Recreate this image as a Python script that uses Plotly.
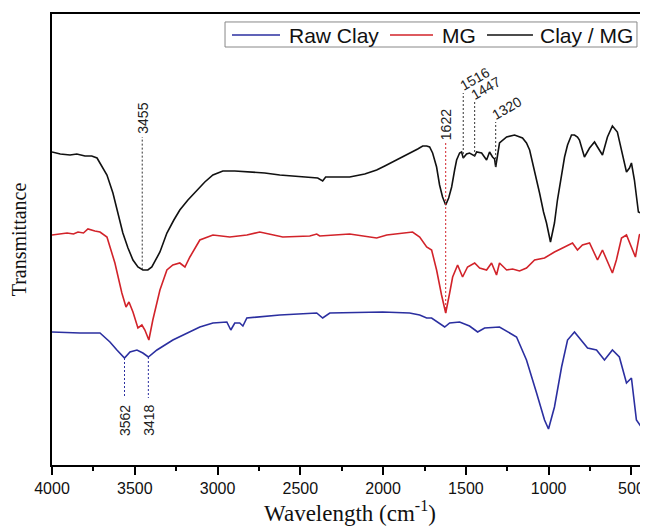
import numpy as np
import plotly.graph_objects as go

# ---------------- data (wavenumber in cm-1, transmittance in arbitrary units) ----------------
clay_mg_wn = [4000, 3950, 3891, 3850, 3801, 3760, 3728, 3710, 3668, 3632, 3602, 3572, 3541, 3511, 3481,
              3451, 3421, 3397, 3348, 3306, 3264, 3228, 3179, 3125, 3077, 3028, 2968, 2896, 2823,
              2715, 2624, 2546, 2443, 2395, 2365, 2347, 2292, 2202, 2111, 2039, 1990, 1942, 1888,
              1840, 1791, 1761, 1737, 1719, 1701, 1677, 1659, 1641, 1622, 1604, 1586, 1568, 1556,
              1538, 1526, 1516, 1496, 1478, 1447, 1435, 1405, 1375, 1357, 1339, 1327, 1320, 1303,
              1297, 1254, 1206, 1158, 1134, 1115, 1097, 1073, 1055, 1031, 1013, 989, 965, 947, 934,
              904, 886, 862, 844, 826, 814, 784, 753, 723, 705, 675, 645, 615, 585, 560, 542, 530,
              512, 500, 482, 464, 458, 440, 421, 403]
clay_mg_t = [313, 311, 310, 311, 309, 309, 307, 302, 290, 272, 252, 232, 217, 205, 198,
             195, 195, 198, 213, 232, 245, 255, 265, 275, 283, 290, 294, 294, 293,
             292, 290, 289, 288, 287, 284, 288, 288, 288, 291, 295, 299, 303, 308,
             312, 316, 319, 319, 318, 312, 298, 280, 268, 260, 267, 278, 295, 305,
             312, 313, 307, 311, 312, 309, 313, 312, 305, 313, 308, 306, 298, 313,
             322, 328, 330, 327, 322, 315, 302, 287, 272, 253, 242, 223, 242, 265, 278,
             308, 320, 330, 330, 328, 325, 308, 317, 323, 318, 310, 328, 339, 333, 315, 300, 293,
             297, 302, 285, 260, 253, 252, 272, 312]

mg_wn = [4000, 3952, 3909, 3870, 3843, 3810, 3783, 3741, 3710, 3668, 3620, 3578, 3553, 3535, 3511,
         3481, 3457, 3439, 3415, 3391, 3348, 3306, 3270, 3228, 3197, 3167, 3107, 3028, 2926,
         2823, 2745, 2606, 2443, 2401, 2383, 2202, 2039, 1978, 1822, 1779, 1737, 1707, 1677,
         1647, 1622, 1598, 1580, 1550, 1520, 1490, 1447, 1417, 1375, 1345, 1315, 1297, 1254,
         1218, 1176, 1134, 1085, 1025, 965, 916, 856, 826, 796, 753, 705, 675, 645, 615, 591,
         560, 530, 500, 476, 452, 428, 403]
mg_t = [230, 231, 232, 231, 233, 232, 236, 234, 233, 228, 202, 172, 158, 163, 153,
        137, 140, 135, 125, 145, 175, 195, 200, 202, 198, 208, 225, 230, 228,
        230, 233, 228, 229, 231, 229, 231, 227, 230, 233, 228, 218, 215, 195,
        170, 152, 172, 188, 200, 188, 198, 202, 197, 195, 202, 190, 202, 195,
        196, 194, 197, 205, 207, 213, 217, 222, 215, 220, 222, 205, 215, 203, 192, 205,
        227, 230, 218, 208, 230, 233, 230]

raw_clay_wn = [4000, 3900, 3831, 3710, 3650, 3608, 3562, 3529, 3487, 3451, 3418, 3366, 3270, 3107,
               3028, 2944, 2920, 2896, 2866, 2847, 2823, 2624, 2522, 2401, 2365, 2322, 2003, 1840,
               1779, 1737, 1707, 1659, 1628, 1598, 1538, 1478, 1429, 1387, 1297, 1194, 1134, 1073,
               1025, 1001, 965, 922, 886, 844, 802, 765, 711, 663, 615, 573, 530, 500, 470, 440, 410]
raw_clay_t = [133, 132, 132, 132, 123, 115, 107, 113, 115, 112, 108, 115, 125, 138,
              142, 143, 135, 142, 142, 139, 147, 150, 151, 152, 147, 152, 153, 152,
              150, 147, 147, 142, 138, 142, 143, 139, 133, 137, 138, 128, 105, 72,
              45, 36, 58, 98, 125, 133, 125, 117, 115, 105, 115, 108, 82, 87, 45, 38, 78]

series_names = ["Raw Clay", "MG", "Clay / MG"]
series_colors = ["#2b2fa0", "#d2232a", "#111111"]

# labelled bands and the series each one belongs to
peak_wn = [3455, 3562, 3418, 1622, 1516, 1447, 1320]
peak_series = [2, 0, 0, 1, 2, 2, 2]

x_ticks = [4000, 3500, 3000, 2500, 2000, 1500, 1000, 500]

# ---------------- figure ----------------
fig = go.Figure()
all_wn = [raw_clay_wn, mg_wn, clay_mg_wn]
all_t = [raw_clay_t, mg_t, clay_mg_t]
for name, color, wn, t in zip(series_names, series_colors, all_wn, all_t):
    fig.add_trace(go.Scatter(x=wn, y=t, mode="lines", name=name, showlegend=False,
                             line=dict(color=color, width=1.6)))


def curve_at(idx, w):
    wn = np.array(all_wn[idx])[::-1]
    t = np.array(all_t[idx])[::-1]
    return float(np.interp(w, wn, t))


shapes = []
annotations = []
label_font = dict(family="Liberation Sans, Arial", size=14, color="#222222")
dash_colors = {0: "#2b2fa0", 1: "#d2232a", 2: "#333333"}
for w, s in zip(peak_wn, peak_series):
    yc = curve_at(s, w)
    if w in (3562, 3418):
        y_end = 67
        annotations.append(dict(x=w, y=y_end - 5, xref="x", yref="y", text=str(w), showarrow=False,
                                textangle=-90, xanchor="center", yanchor="top", font=label_font))
    elif w == 3455:
        y_end = 328
        annotations.append(dict(x=w, y=y_end + 1, xref="x", yref="y", text=str(w), showarrow=False,
                                textangle=-90, xanchor="center", yanchor="bottom", font=label_font))
    elif w == 1622:
        y_end = 322
        annotations.append(dict(x=w, y=y_end + 1, xref="x", yref="y", text=str(w), showarrow=False,
                                textangle=-90, xanchor="center", yanchor="bottom", font=label_font))
    else:
        y_end = {1516: 372, 1447: 363, 1320: 343}[w]
        annotations.append(dict(x=w, y=y_end - 3, xref="x", yref="y", text=str(w), showarrow=False,
                                textangle=-30, xanchor="left", yanchor="bottom",
                                xshift=-9, font=label_font))
    shapes.append(dict(type="line", xref="x", yref="y", x0=w, x1=w, y0=yc, y1=y_end,
                       line=dict(color=dash_colors[s], width=1, dash="2px,2px")))

# hand-built legend box (paper coordinates) so the sample lines match the original's length
leg_font = dict(family="Liberation Sans, Arial", size=21, color="#111111")
shapes.append(dict(type="rect", xref="paper", yref="paper", x0=0.2903, x1=0.9815, y0=0.9268, y1=0.9823,
                   line=dict(color="#888888", width=1), fillcolor="white", layer="above"))
leg_line_x = [(0.3020, 0.3826), (0.5671, 0.6393), (0.7299, 0.8070)]
leg_text_x = [0.3935, 0.6517, 0.8146]
for name, color, (lx0, lx1), tx in zip(series_names, series_colors, leg_line_x, leg_text_x):
    shapes.append(dict(type="line", xref="paper", yref="paper", x0=lx0, x1=lx1, y0=0.9534, y1=0.9534,
                       line=dict(color=color, width=1.3), layer="above"))
    annotations.append(dict(x=tx, y=0.9534, xref="paper", yref="paper", text=name, showarrow=False,
                            xanchor="left", yanchor="middle", font=leg_font))

# the page body adds an 8px margin, so the figure is 8px smaller and margins compensate
fig.update_layout(
    width=640, height=518,
    margin=dict(l=44, r=0, t=6, b=61, autoexpand=False),
    paper_bgcolor="white", plot_bgcolor="white",
    showlegend=False,
    shapes=shapes,
    annotations=annotations,
)

fig.update_xaxes(range=[4000, 400], tickvals=x_ticks, ticktext=[str(v) for v in x_ticks],
                 ticks="outside", ticklen=8, tickwidth=1.5, tickcolor="black",
                 minor=dict(dtick=250, tick0=0, ticks="outside", ticklen=4, tickwidth=1.5,
                            tickcolor="black"),
                 showline=True, linecolor="black", linewidth=2, mirror=True,
                 showgrid=False, zeroline=False,
                 tickfont=dict(family="Liberation Sans, Arial", size=16, color="#111111"),
                 title=dict(text="Wavelength (cm<sup>-1</sup>)", standoff=8,
                            font=dict(family="Liberation Serif, Times New Roman", size=23,
                                      color="#111111")))
fig.update_yaxes(range=[0, 451], showticklabels=False, ticks="",
                 showline=True, linecolor="black", linewidth=2, mirror=True,
                 showgrid=False, zeroline=False,
                 title=dict(text="Transmittance", standoff=18,
                            font=dict(family="Liberation Serif, Times New Roman", size=20,
                                      color="#111111")))

fig.write_html("out.html")
